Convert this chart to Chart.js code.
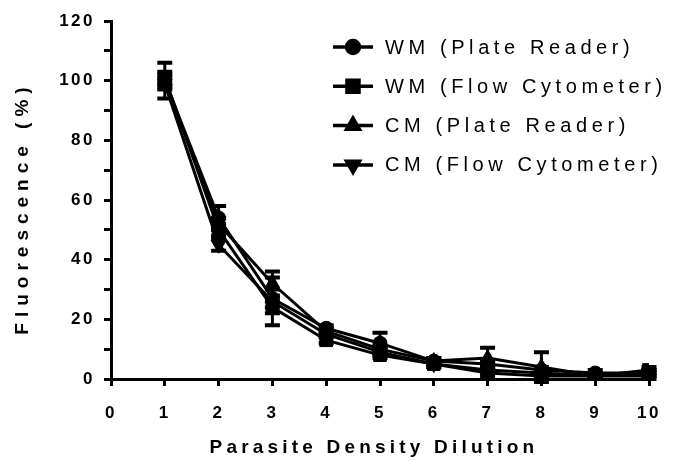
<!DOCTYPE html>
<html>
<head>
<meta charset="utf-8">
<title>Fluorescence vs dilution</title>
<script src="https://cdn.jsdelivr.net/npm/chart.js@4.4.1/dist/chart.umd.min.js"></script>
<style>
  html, body { margin: 0; padding: 0; background: #fff; }
  canvas { display: block; }
</style>
</head>
<body>
<canvas id="fluoChart" width="678" height="461"></canvas>
<script>
"use strict";

// dilution steps
var dilutions = [1, 2, 3, 4, 5, 6, 7, 8, 9, 10];

// mean fluorescence (%) per method
var wmPlate = [100, 54, 27, 17, 12, 6, 5, 3, 2, 2];
var wmFlow  = [101, 50, 24, 13, 8, 5, 2, 1, 1, 3];
var cmPlate = [100, 52, 32, 16, 10, 6, 7, 4, 1, 1];
var cmFlow  = [99, 45, 26, 15, 9, 5, 3, 2, 1, 2];

// SD for the error bars
var wmPlateErr = [6, 4, 9, 1, 3.5, 1, 1, 1, 1, 1];
var wmFlowErr  = [2, 2, 2, 1, 1, 1, 1, 1, 1, 1];
var cmPlateErr = [2, 2, 2, 1, 1, 1, 3.5, 5, 1, 1];
var cmFlowErr  = [2, 2, 2, 1, 1, 1, 1, 1, 1, 1];

var seriesNames = ["WM (Plate Reader)", "WM (Flow Cytometer)", "CM (Plate Reader)", "CM (Flow Cytometer)"];

var yTicksMax = 120;
var xTicksMax = 10;

var FONT = "'Liberation Sans', Arial, Helvetica, sans-serif";

function pts(vals, errs) {
	var out = [];
	for (var i = 0; i < dilutions.length; i++) {
		out.push({x: dilutions[i], y: vals[i], err: errs[i]});
	}
	return out;
}

function makeSet(idx, vals, errs, style, radius, rot, legendRadius) {
	return {
		label: seriesNames[idx],
		data: pts(vals, errs),
		borderColor: "#000",
		backgroundColor: "#000",
		borderWidth: 3,
		pointStyle: style,
		pointRadius: radius,
		pointRotation: rot,
		pointBorderWidth: 1,
		pointBackgroundColor: "#000",
		pointBorderColor: "#000",
		legendRadius: legendRadius,
		tension: 0,
		fill: false
	};
}

// error bars, drawn with the chart's own y scale
var errorBars = {
	id: "errorBars",
	afterDatasetsDraw: function(chart) {
		var ctx = chart.ctx, yScale = chart.scales.y;
		ctx.save();
		ctx.strokeStyle = "#000";
		ctx.lineWidth = 3;
		chart.data.datasets.forEach(function(ds, i) {
			var meta = chart.getDatasetMeta(i);
			meta.data.forEach(function(pt, j) {
				var d = ds.data[j];
				if (!d.err) return;
				var top = yScale.getPixelForValue(d.y + d.err);
				var bot = yScale.getPixelForValue(d.y - d.err);
				ctx.beginPath();
				ctx.moveTo(pt.x, top); ctx.lineTo(pt.x, bot);
				ctx.stroke();
				ctx.lineWidth = 4;
				ctx.beginPath();
				ctx.moveTo(pt.x - 7.5, top); ctx.lineTo(pt.x + 7.5, top);
				ctx.moveTo(pt.x - 7.5, bot); ctx.lineTo(pt.x + 7.5, bot);
				ctx.stroke();
				ctx.lineWidth = 3;
			});
		});
		ctx.restore();
	}
};

// spaced-out text like the original export
var spacedText = {
	id: "spacedText",
	beforeDraw: function(chart) {
		chart.ctx.letterSpacing = "2.5px";
	},
	afterDraw: function(chart) {
		var ctx = chart.ctx, area = chart.chartArea;
		ctx.save();
		ctx.fillStyle = "#000";
		ctx.textBaseline = "middle";

		// axis titles
		ctx.font = "bold 19px " + FONT;
		ctx.letterSpacing = "4.2px";
		ctx.textAlign = "center";
		ctx.fillText("Parasite Density Dilution", (area.left + area.right) / 2 - 6, 448);
		ctx.save();
		ctx.translate(23, 208);
		ctx.rotate(-Math.PI / 2);
		ctx.font = "bold 19px " + FONT;
		ctx.letterSpacing = "6px";
		ctx.fillText("Fluorescence (%)", 0, 0);
		ctx.restore();

		// legend: line segment with marker, then label
		ctx.font = "20px " + FONT;
		ctx.letterSpacing = "4.6px";
		ctx.textAlign = "left";
		chart.data.datasets.forEach(function(ds, i) {
			var y = 47 + i * 39.3;
			ctx.strokeStyle = "#000";
			ctx.lineWidth = 3.5;
			ctx.beginPath();
			ctx.moveTo(333, y); ctx.lineTo(373, y);
			ctx.stroke();
			Chart.helpers.drawPoint(ctx, {
				pointStyle: ds.pointStyle,
				radius: ds.legendRadius,
				rotation: ds.pointRotation,
				borderWidth: 1
			}, 353, y);
			ctx.fill();
			ctx.fillText(ds.label, 385, y + 1);
		});
		ctx.restore();
	}
};

var ctx = document.getElementById("fluoChart").getContext("2d");
var myChart = new Chart(ctx, {
	type: "line",
	data: {
		datasets: [
			makeSet(0, wmPlate, wmPlateErr, "circle", 7, 0, 6.5),
			makeSet(1, wmFlow, wmFlowErr, "rect", 9, 0, 8.5),
			makeSet(2, cmPlate, cmPlateErr, "triangle", 8.5, 0, 7.5),
			makeSet(3, cmFlow, cmFlowErr, "triangle", 8.5, 180, 7.5)
		]
	},
	options: {
		responsive: false,
		animation: false,
		devicePixelRatio: 1,
		layout: { padding: { left: 0, top: 21, right: 29, bottom: 0 } },
		plugins: {
			legend: { display: false },
			tooltip: { enabled: false }
		},
		scales: {
			x: {
				type: "linear",
				min: 0,
				max: xTicksMax,
				ticks: {
					stepSize: 1,
					color: "#000",
					font: { family: FONT, size: 17, weight: "bold" },
					padding: 17,
					maxRotation: 0
				},
				grid: { drawOnChartArea: false, drawTicks: true, tickLength: 7, lineWidth: 3, color: "#000" },
				border: { display: true, width: 3, color: "#000" },
				afterFit: function(scale) { scale.height = 82; }
			},
			y: {
				min: 0,
				max: yTicksMax,
				ticks: {
					stepSize: 10,
					color: "#000",
					font: { family: FONT, size: 17, weight: "bold" },
					padding: 9,
					callback: function(v) { return v % 20 === 0 ? v : ""; }
				},
				grid: { drawOnChartArea: false, drawTicks: true, tickLength: 7, lineWidth: 3, color: "#000" },
				border: { display: true, width: 3, color: "#000" },
				afterFit: function(scale) { scale.width = 111; }
			}
		}
	},
	plugins: [errorBars, spacedText]
});
</script>
</body>
</html>
